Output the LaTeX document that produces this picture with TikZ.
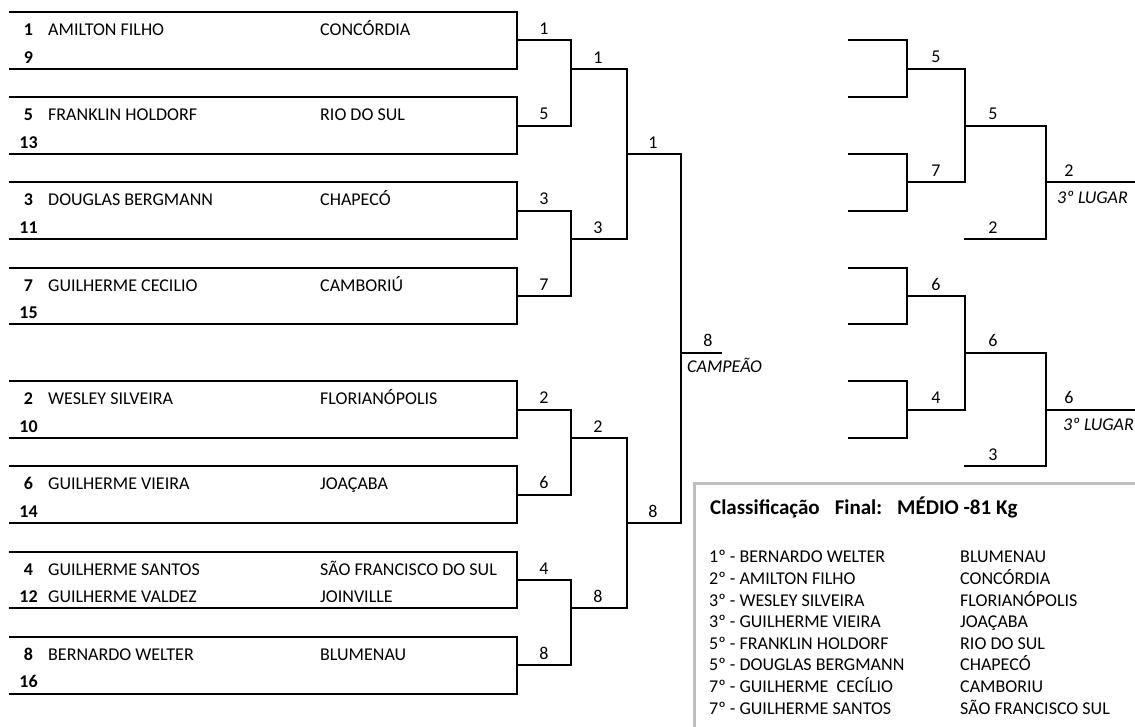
\documentclass[tikz,border=0pt]{standalone}
\usepackage{fontspec}
\setmainfont{Carlito}
\usetikzlibrary{positioning}

\begin{document}
\begin{tikzpicture}[
    x=1pt, y=-1pt,
    font=\fontsize{18}{21.6}\selectfont,
    every node/.style={inner sep=0pt},
    line/.style  ={draw=black, line width=2pt},
    frame/.style ={draw=black!25, line width=3pt},
    seed/.style  ={anchor=base, font=\fontsize{18}{21.6}\selectfont\bfseries},
    player/.style={anchor=base west},
    score/.style ={anchor=south, yshift=5.5pt},
    place/.style ={anchor=base west, font=\fontsize{18}{21.6}\selectfont\itshape},
    title/.style ={anchor=base west, font=\fontsize{21}{25}\selectfont\bfseries}
]
\useasboundingbox (0,0) rectangle (1135,727);
\clip (0,0) rectangle (1135,727);

\begin{scope}[y=-28.4pt, yshift=-12pt]
%–––– ENTRY BOXES –––––––––––––––––––––––––––––––––
\foreach \yy/\sa/\na/\ca/\sb in {
    0/1/AMILTON FILHO/CONCÓRDIA/9,
    3/5/FRANKLIN HOLDORF/RIO DO SUL/13,
    6/3/DOUGLAS BERGMANN/CHAPECÓ/11,
    9/7/GUILHERME CECILIO/CAMBORIÚ/15,
    13/2/WESLEY SILVEIRA/FLORIANÓPOLIS/10,
    16/6/GUILHERME VIEIRA/JOAÇABA/14,
    19/4/GUILHERME SANTOS/SÃO FRANCISCO DO SUL/12,
    22/8/BERNARDO WELTER/BLUMENAU/16}
{
  \draw[line] (9,\yy) -- (517,\yy) -- (517,\yy+2) -- (9,\yy+2);
  \node (sa\yy) [seed]   at (28.5,\yy+0.83) {\sa};
  \node (na\yy) [player] at (48,\yy+0.83)   {\na};
  \node (ca\yy) [player] at (320,\yy+0.83)  {\ca};
  \node (sb\yy) [seed]   at (28.5,\yy+1.8)  {\sb};
}
\node (nb19) [player] at (48,20.8)  {GUILHERME VALDEZ};
\node (cb19) [player] at (320,20.8) {JOINVILLE};

%–––– MAIN BRACKET ––––––––––––––––––––––––––––––––
\foreach \a/\va/\vb in {0/1/5, 6/3/7, 13/2/6, 19/4/8}
{
  \draw[line] (517,\a+1) -- (571,\a+1) -- (571,\a+4) -- (517,\a+4);
  \node (ra\a) [score] at (544,\a+1) {\va};
  \node (rb\a) [score] at (544,\a+4) {\vb};
}
\foreach \a/\va/\vb in {2/1/3, 15/2/8}
{
  \draw[line] (571,\a) -- (627,\a) -- (627,\a+6) -- (571,\a+6);
  \node (qa\a) [score] at (598,\a)   {\va};
  \node (qb\a) [score] at (598,\a+6) {\vb};
}
\draw[line] (627,5) -- (681,5) -- (681,18) -- (627,18);
\node (sfa) [score] at (653,5)  {1};
\node (sfb) [score] at (653,18) {8};

\draw[line] (681,12) -- (722,12);
\node (champ)  [score] at (708,12) {8};
\node (champl) [place, yshift=-20pt] at (687,12) {CAMPEÃO};

%–––– REPECHAGE –––––––––––––––––––––––––––––––––––
\foreach \off/\va/\vb/\vc/\vv/\ve/\lx in {0/5/7/5/2/2/1057, 8/6/4/6/3/6/1063}
{
  \draw[line] (848,\off+1) -- (907,\off+1) -- (907,\off+3) -- (848,\off+3);
  \draw[line] (848,\off+5) -- (907,\off+5) -- (907,\off+7) -- (848,\off+7);
  \draw[line] (907,\off+2) -- (965,\off+2) -- (965,\off+6) -- (907,\off+6);
  \draw[line] (965,\off+4) -- (1046,\off+4) -- (1046,\off+8) -- (964,\off+8);
  \draw[line] (1046,\off+6) -- (1140,\off+6);
  \node (xa\off) [score] at (936,\off+2)  {\va};
  \node (xb\off) [score] at (936,\off+6)  {\vb};
  \node (xc\off) [score] at (993,\off+4)  {\vc};
  \node (xd\off) [score] at (993,\off+8)  {\vv};
  \node (xe\off) [score] at (1069,\off+6) {\ve};
  \node (bronze\off) [place, yshift=-21pt] at (\lx,\off+6) {3º LUGAR};
}
\end{scope}

%–––– FINAL RANKING –––––––––––––––––––––––––––––––
\draw[frame] (694,740) -- (694,483) -- (1145,483);
\node (cls) [title] at (710,514.5)
  {Classificação\hspace{15pt}Final:\hspace{15pt}MÉDIO -81 Kg};
\foreach \i/\pl/\ct in {
    0/1º - BERNARDO WELTER/BLUMENAU,
    1/2º - AMILTON FILHO/CONCÓRDIA,
    2/3º - WESLEY SILVEIRA/FLORIANÓPOLIS,
    3/3º - GUILHERME VIEIRA/JOAÇABA,
    4/5º - FRANKLIN HOLDORF/RIO DO SUL,
    5/5º - DOUGLAS BERGMANN/CHAPECÓ,
    6/7º - GUILHERME\ \ CECÍLIO/CAMBORIU,
    7/7º - GUILHERME SANTOS/SÃO FRANCISCO SUL}
{
  \node (pl\i) [player] at (709,{562.8+21.6*\i}) {\pl};
  \node (ct\i) [player] at (960,{562.8+21.6*\i}) {\ct};
}
\end{tikzpicture}
\end{document}
